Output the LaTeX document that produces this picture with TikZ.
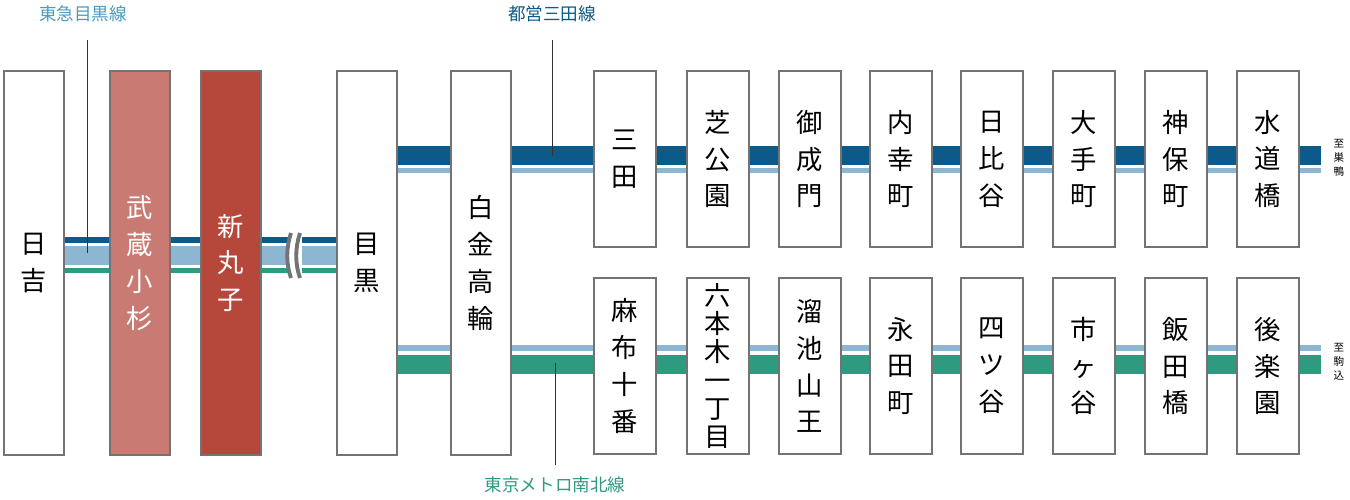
\documentclass[tikz,border=0pt]{standalone}
\usepackage{fontspec}
\newfontfamily\jfont{Noto Sans CJK JP}
\usetikzlibrary{positioning}
\definecolor{mita}{HTML}{0C5A8A}
\definecolor{meguro}{HTML}{8DB6D2}
\definecolor{namboku}{HTML}{2E9A80}
\definecolor{musashi}{HTML}{C97B73}
\definecolor{maruko}{HTML}{B5473B}
\definecolor{mlabel}{HTML}{4A9AC4}
\begin{document}
\begin{tikzpicture}
[x=0.02cm,y=-0.02cm,every node/.style={font=\jfont},
  stn/.style = {draw=black!55,line width=0.8pt,fill=white,inner sep=0pt,align=center,
        font=\jfont\fontsize{15}{21}\selectfont},
  tall/.style = {stn,minimum width=1.2cm,minimum height=7.68cm},
  short/.style = {stn,minimum width=1.24cm,minimum height=3.52cm},
  lname/.style = {font=\jfont\fontsize{10}{12}\selectfont},
  tolabel/.style = {font=\jfont\fontsize{6}{8}\selectfont,align=center,inner sep=0pt},
  leader/.style = {draw=black!80,line width=0.5pt}]
\useasboundingbox (0,0) rectangle (1350,500);

% lines
\fill[mita] (64,237) rectangle (337,243);
\fill[meguro] (64,246) rectangle (337,265);
\fill[namboku] (64,268) rectangle (337,273);
\fill[mita] (397,146) rectangle (1321,165);
\fill[meguro] (397,168) rectangle (1321,173);
\fill[meguro] (397,345) rectangle (1321,351);
\fill[namboku] (397,355) rectangle (1321,374);
% break
\fill[white] (288,230) rectangle (302,280);
\draw[black!55,line width=2.2pt] (291,233) .. controls (286,248) and (286,264) .. (291,278);
\draw[black!55,line width=2.2pt] (300,233) .. controls (295,248) and (295,264) .. (300,278);

% stations
\node[tall] (hiyoshi) at (34,263) {日\\吉};
\node[tall,fill=musashi,text=white] (musashikosugi) at (140,263) {武\\蔵\\小\\杉};
\node[tall,fill=maruko,text=white] (shinmaruko) at (231,263) {新\\丸\\子};
\node[tall] (meguro) at (367,263) {目\\黒};
\node[tall] (shirokane) at (481,263) {白\\金\\高\\輪};

\node[short] (mita) at (625,159) {三\\田};
\node[short] (shibakoen) at (718,159) {芝\\公\\園};
\node[short] (onarimon) at (810,159) {御\\成\\門};
\node[short] (uchisaiwaicho) at (901,159) {内\\幸\\町};
\node[short] (hibiya) at (992,159) {日\\比\\谷};
\node[short] (otemachi) at (1084,159) {大\\手\\町};
\node[short] (jimbocho) at (1176,159) {神\\保\\町};
\node[short] (suidobashi) at (1268,159) {水\\道\\橋};

\node[short] (azabujuban) at (625,366) {麻\\布\\十\\番};
\node[short,font=\jfont\fontsize{15}{16}\selectfont] (roppongi) at (718,366) {六\\本\\木\\一\\丁\\目};
\node[short] (tameike) at (810,366) {溜\\池\\山\\王};
\node[short] (nagatacho) at (901,366) {永\\田\\町};
\node[short] (yotsuya) at (992,366) {四\\ツ\\谷};
\node[short] (ichigaya) at (1084,366) {市\\ヶ\\谷};
\node[short] (iidabashi) at (1176,366) {飯\\田\\橋};
\node[short] (korakuen) at (1268,366) {後\\楽\\園};

% line names
\node[lname,text=mlabel] (tokyu) at (83,14) {東急目黒線};
\node[lname,text=mita] (toei) at (552,14) {都営三田線};
\node[lname,text=namboku] (tokyometro) at (555,485) {東京メトロ南北線};
\coordinate (tokyustart) at (87,40);
\coordinate (tokyuend) at (87,253);
\coordinate (toeistart) at (552,40);
\coordinate (toeiend) at (552,156);
\coordinate (nambokustart) at (555,465);
\coordinate (nambokuend) at (555,363);
\path[leader] (tokyustart) -- (tokyuend);
\path[leader] (toeistart) -- (toeiend);
\path[leader] (nambokustart) -- (nambokuend);

\node[tolabel] (sugamo) at (1339,158) {至\\巣\\鴨};
\node[tolabel] (komagome) at (1339,362) {至\\駒\\込};
\end{tikzpicture}
\end{document}
